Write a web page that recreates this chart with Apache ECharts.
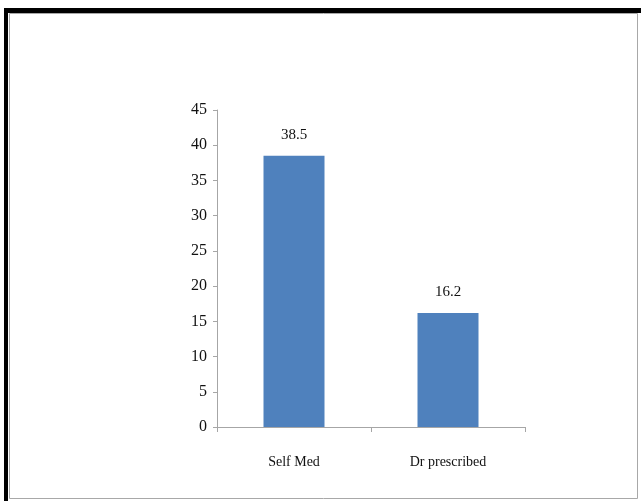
<!DOCTYPE html>
<html>
<head>
<meta charset="utf-8">
<script src="https://cdn.jsdelivr.net/npm/echarts@6/dist/echarts.min.js"></script>
<style>
html,body{margin:0;padding:0;background:#fff;}
#c{width:641px;height:501px;}
</style>
</head>
<body>
<div id="c"></div>
<script>
var categories = ["Self Med", "Dr prescribed"];
var values = [38.5, 16.2];
var yTicks = [0, 5, 10, 15, 20, 25, 30, 35, 40, 45];

var chart = echarts.init(document.getElementById('c'));
var font = '"Liberation Serif", "Times New Roman", serif';
chart.setOption({
  animation: false,
  backgroundColor: '#ffffff',
  graphic: [
    {type: 'rect', shape: {x: 4, y: 8, width: 637, height: 5}, style: {fill: '#000'}},
    {type: 'rect', shape: {x: 4, y: 8, width: 4, height: 493}, style: {fill: '#000'}},
    {type: 'rect', shape: {x: 9.5, y: 13.5, width: 628, height: 485}, style: {fill: 'none', stroke: '#a8a8a8', lineWidth: 1}}
  ],
  grid: {left: 217, right: 116, top: 110, bottom: 74},
  xAxis: {
    type: 'category',
    data: categories,
    axisLine: {lineStyle: {color: '#a6a6a6'}},
    axisTick: {show: true, length: 5, lineStyle: {color: '#a6a6a6'}},
    axisLabel: {color: '#111', fontFamily: font, fontSize: 14, margin: 28}
  },
  yAxis: {
    type: 'value',
    min: yTicks[0],
    max: yTicks[yTicks.length - 1],
    interval: 5,
    splitLine: {show: false},
    axisLine: {show: true, lineStyle: {color: '#a6a6a6'}},
    axisTick: {show: true, length: 4, lineStyle: {color: '#a6a6a6'}},
    axisLabel: {color: '#111', fontFamily: font, fontSize: 16, margin: 10}
  },
  series: [{
    type: 'bar',
    data: values,
    barWidth: 61,
    itemStyle: {color: '#4f81bd'},
    label: {show: true, position: 'top', distance: 13, color: '#111', fontFamily: font, fontSize: 15}
  }]
});
</script>
</body>
</html>
